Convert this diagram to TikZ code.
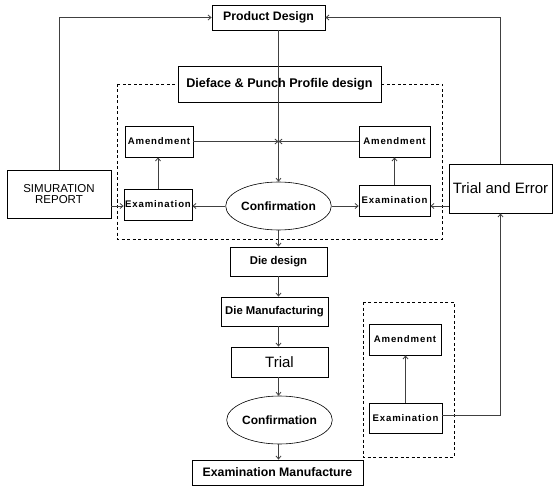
\documentclass[tikz,border=0pt]{standalone}
\usepackage{fontspec}
\setmainfont{Liberation Sans}
\newfontfamily\spacedsans[LetterSpace=9]{Liberation Sans}
\usetikzlibrary{arrows.meta,shapes.geometric}
\begin{document}
\begin{tikzpicture}[x=1pt,y=-1pt,
  box/.style={draw=black,line width=0.8pt,fill=white,inner sep=0pt,align=center},
  oval/.style={ellipse,draw=black,line width=0.6pt,fill=white,inner sep=0pt},
  frame/.style={draw=black,line width=0.7pt,dash pattern=on 3pt off 2.5pt},
  arr/.style={draw=black!75,line width=0.8pt,-{Straight Barb[length=3pt,width=5pt]}},
  fsmall/.style={font=\spacedsans\fontsize{9.6}{11}\selectfont\bfseries},
  fmid/.style={font=\fontsize{11.3}{12}\selectfont\bfseries},
  fbig/.style={font=\fontsize{15}{17}\selectfont}]
\useasboundingbox (0,0) rectangle (553,486);
% dashed frames
\draw[frame] (117,84) rectangle (442,239);
\draw[frame] (363,302) rectangle (454,457);
% nodes
\node[box,font=\fontsize{12.3}{14}\selectfont\bfseries,minimum width=113,minimum height=25] (pd) at (268.5,17.5) {Product Design};
\node[box,font=\fontsize{12.6}{14}\selectfont\bfseries,minimum width=203,minimum height=36] (df) at (279.5,84) {Dieface \& Punch Profile design};
\node[box,fsmall,minimum width=68,minimum height=31] (am1) at (159,141.5) {Amendment};
\node[box,fsmall,minimum width=68,minimum height=31] (ex1) at (158,204.5) {Examination};
\node[box,font=\fontsize{11.5}{10.5}\selectfont,minimum width=104,minimum height=48] (sim) at (59,194) {SIMURATION\\REPORT};
\node[oval,font=\fontsize{12}{14}\selectfont\bfseries,minimum width=100,minimum height=48] (cf1) at (278.5,206) {Confirmation};
\node[box,fsmall,minimum width=71,minimum height=31] (am2) at (394.5,141.5) {Amendment};
\node[box,fsmall,minimum width=71,minimum height=31] (ex2) at (394.5,200.5) {Examination};
\node[box,fbig,minimum width=103,minimum height=49] (te) at (500.5,188.5) {Trial and Error};
\node[box,fmid,minimum width=97,minimum height=29] (dd) at (278.5,261.5) {Die design};
\node[box,fmid,minimum width=107,minimum height=29] (dm) at (274.5,311.5) {Die Manufacturing};
\node[box,fbig,minimum width=97,minimum height=30] (tr) at (279.5,362) {Trial};
\node[oval,font=\fontsize{12}{14}\selectfont\bfseries,minimum width=99,minimum height=48] (cf2) at (279.5,420) {Confirmation};
\node[box,font=\fontsize{12.3}{14}\selectfont\bfseries,minimum width=171,minimum height=25] (em) at (277.5,472.5) {Examination Manufacture};
\node[box,fsmall,minimum width=72,minimum height=31] (am3) at (405,339.5) {Amendment};
\node[box,fsmall,minimum width=73,minimum height=30] (ex3) at (405.5,418) {Examination};
% spine connectors
\draw[arr] (pd.south -| cf1) -- (df.south -| cf1) -- (cf1.north);
\draw[arr] (cf1.south) -- (dd.north -| cf1);
\draw[arr] (dd.south -| cf1) -- (dm.north -| cf1);
\draw[arr] (dm.south -| cf1) -- (tr.north -| cf1);
\draw[arr] (tr.south -| cf1) -- (cf2.north -| cf1);
\draw[arr] (cf2.south -| cf1) -- (em.north -| cf1);
% amendments into spine
\draw[arr] (am1.east) -- (am1.east -| cf1);
\draw[arr] (am2.west) -- (am2.west -| cf1);
% confirmation to examinations
\draw[arr] (cf1.west) -- (cf1.west -| ex1.east);
\draw[arr] (cf1.east) -- (cf1.east -| ex2.west);
\draw[arr] (te.west |- cf1.east) -- (ex2.east |- cf1.east);
\draw[arr] (sim.east |- cf1.west) -- (ex1.west |- cf1.west);
% examinations to amendments
\draw[arr] (ex1.north) -- (ex1.north |- am1.south);
\draw[arr] (ex2.north) -- (ex2.north |- am2.south);
\draw[arr] (ex3.north) -- (ex3.north |- am3.south);
% feedback loops
\draw[arr] (sim.north) |- (pd.west);
\draw[arr] (te.north) |- (pd.east);
\draw[arr] ([yshift=3pt]ex3.east) -| (te.south);
\end{tikzpicture}
\end{document}
